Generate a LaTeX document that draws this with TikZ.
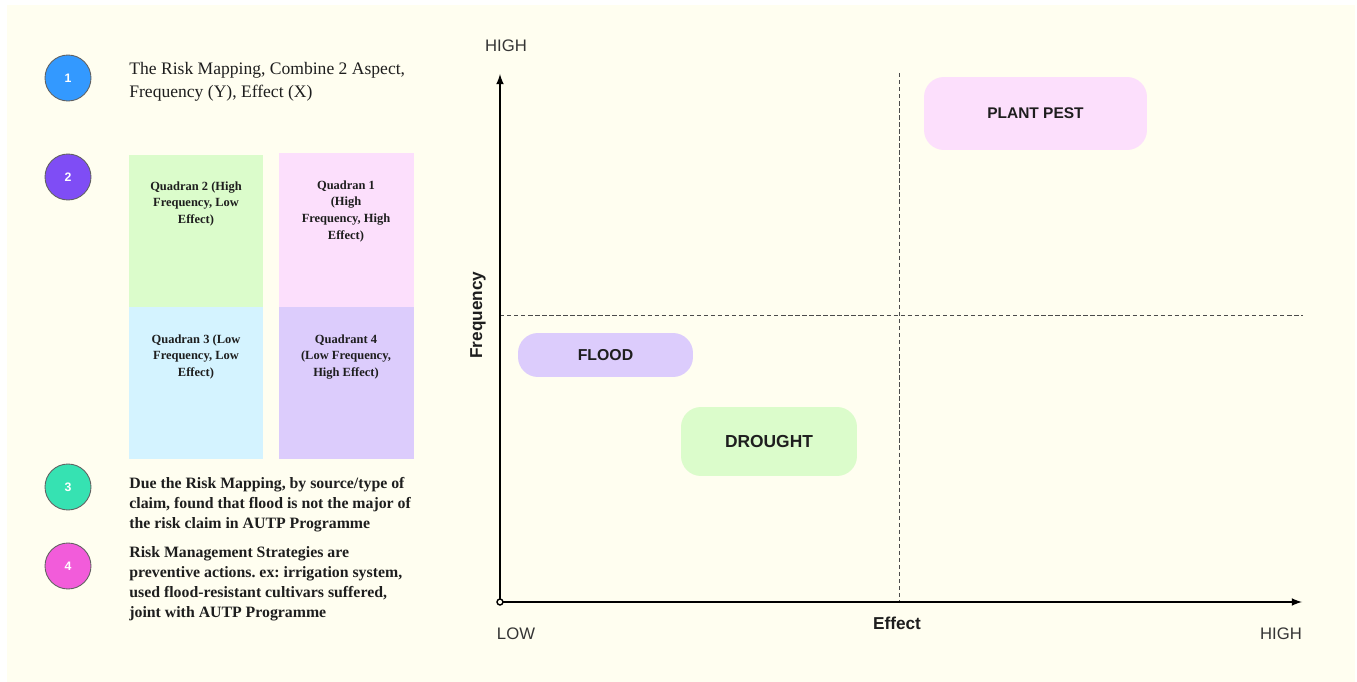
\documentclass[tikz,border=0pt]{standalone}
\usepackage{fontspec}
\usepackage{xcolor}
\usepackage{tikz}
\usetikzlibrary{arrows}
\usetikzlibrary{calc}
\setmainfont{Liberation Serif}
\newfontfamily\chartfont{Liberation Sans}
\frenchspacing

\definecolor{paper}{HTML}{FFFEF0}
\definecolor{ink}{HTML}{1E1E1E}
\definecolor{oneblue}{HTML}{3399FF}
\definecolor{twopurple}{HTML}{7F4DF5}
\definecolor{threeteal}{HTML}{36E2B2}
\definecolor{fourpink}{HTML}{F25CDA}
\definecolor{qgreen}{HTML}{DBFCCB}
\definecolor{qpink}{HTML}{FCDFFC}
\definecolor{qblue}{HTML}{D4F3FF}
\definecolor{qlilac}{HTML}{DCCCFC}

\begin{document}
\begin{tikzpicture}[x=0.02cm, y=-0.02cm,
	num/.style={circle, draw=ink!70, line width=0.5pt, minimum size=0.92cm, inner sep=0pt, text=white, font=\chartfont\fontsize{7}{8}\selectfont\bfseries},
	note/.style={anchor=north west, align=left, text=ink, inner sep=0pt},
	quadtext/.style={anchor=north, align=center, text=ink, inner sep=0pt, font=\fontsize{7.1}{9.6}\selectfont\bfseries},
	pill/.style={rounded corners=0.4cm, inner sep=0pt, text=ink, font=\chartfont\bfseries},
	tick/.style={text=ink!90, font=\chartfont\fontsize{9.5}{11}\selectfont},
	line/.style={>=latex}]
	\useasboundingbox (0,0) rectangle (1357,682);
	\fill[white] (0,0) rectangle (1357,682);
	\fill[paper] (7,5) rectangle (1355,682);
	\node[num, fill=oneblue] (n1) at (68,78) {1};
	\node[num, fill=twopurple] (n2) at (68,177) {2};
	\node[num, fill=threeteal] (n3) at (68,487) {3};
	\node[num, fill=fourpink] (n4) at (68,566) {4};
	\node[note, font=\fontsize{10}{13.6}\selectfont] (t1) at (129,61.5) {The Risk Mapping, Combine 2 Aspect,\\Frequency (Y), Effect (X)};
	\fill[qgreen] (129,155) rectangle (263,307);
	\fill[qpink] (279,153) rectangle (414,307);
	\fill[qblue] (129,307) rectangle (263,459);
	\fill[qlilac] (279,307) rectangle (414,459);
	\node[quadtext] (q2) at (196,181) {Quadran 2 (High\\Frequency, Low\\Effect)};
	\node[quadtext] (q1) at (346,180) {Quadran 1\\(High\\Frequency, High\\Effect)};
	\node[quadtext] (q3) at (196,334) {Quadran 3 (Low\\Frequency, Low\\Effect)};
	\node[quadtext] (q4) at (346,334) {Quadrant 4\\(Low Frequency,\\High Effect)};
	\node[note, font=\fontsize{9}{11.4}\selectfont\bfseries] (t3) at (129,477) {Due the Risk Mapping, by source/type of\\claim, found that flood is not the major of\\the risk claim in AUTP Programme};
	\node[note, font=\fontsize{9}{11.5}\selectfont\bfseries] (t4) at (129,546) {Risk Management Strategies are\\preventive actions. ex: irrigation system,\\used flood-resistant cultivars suffered,\\joint with AUTP Programme};
	\coordinate (O) at (500,602);
	\coordinate (ytop) at (500,74);
	\coordinate (xend) at (1302,602);
	\coordinate (v1) at (899,73);
	\coordinate (v2) at (899,602);
	\coordinate (h1) at (500,315);
	\coordinate (h2) at (1303,315);
	\draw[ink!80, dash pattern=on 2.5pt off 1.5pt, line width=0.5pt] (v1) -- (v2);
	\draw[ink!80, dash pattern=on 2.5pt off 1.5pt, line width=0.5pt] (h1) -- (h2);
	\draw[->, line, line width=1pt] (O) -- (ytop);
	\draw[->, line, line width=1pt] (O) -- (xend);
	\draw[line width=0.8pt, fill=paper] (O) circle (3);
	\node[tick] (yhigh) at (506,46) {HIGH};
	\node[tick] (xlow) at (516,634) {LOW};
	\node[tick] (xhigh) at (1281,634) {HIGH};
	\node[text=ink, font=\chartfont\fontsize{9.8}{11}\selectfont\bfseries] (effect) at (897,623) {Effect};
	\node[text=ink, rotate=90, font=\chartfont\fontsize{9.8}{11}\selectfont\bfseries] (freq) at (478,315) {Frequency};
	\node[pill, fill=qlilac, minimum width=3.5cm, minimum height=0.88cm, font=\chartfont\fontsize{9}{10}\selectfont\bfseries] (flood) at (605.5,355) {FLOOD};
	\node[pill, fill=qgreen, minimum width=3.52cm, minimum height=1.38cm, font=\chartfont\fontsize{9.9}{11}\selectfont\bfseries] (drought) at (769,441.5) {DROUGHT};
	\node[pill, fill=qpink, minimum width=4.46cm, minimum height=1.46cm, font=\chartfont\fontsize{8.8}{10}\selectfont\bfseries] (pest) at (1035.5,113.5) {PLANT PEST};
\end{tikzpicture}
\end{document}
